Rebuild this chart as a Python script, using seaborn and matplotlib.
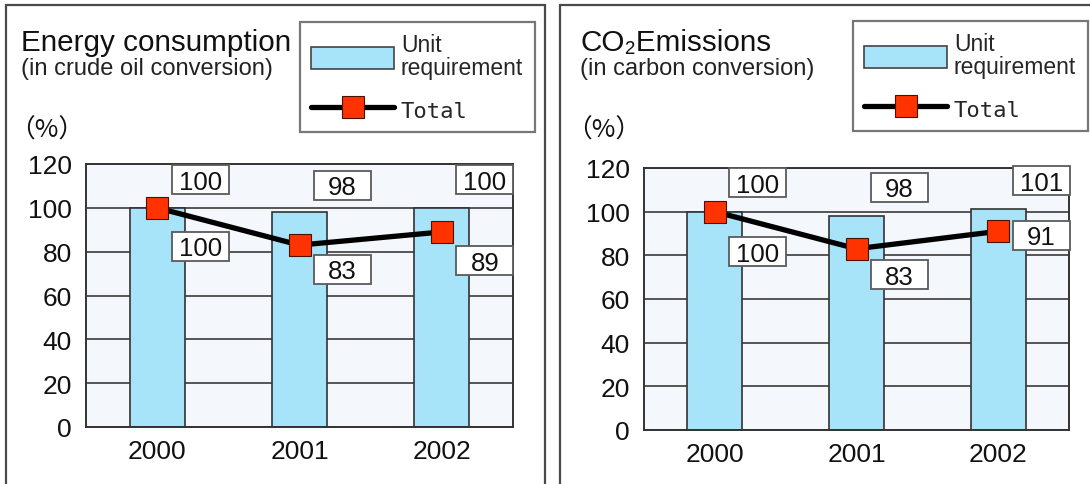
import numpy as np
import pandas as pd
import matplotlib
matplotlib.use("Agg")
import matplotlib.pyplot as plt
import seaborn as sns
from matplotlib.patches import Rectangle, Patch
from matplotlib.lines import Line2D
from matplotlib.text import Text
from matplotlib.offsetbox import AnnotationBbox, DrawingArea

# ---- data ----
years = ["2000", "2001", "2002"]
energy_unit = [100, 98, 100]
energy_total = [100, 83, 89]
co2_unit = [100, 98, 101]
co2_total = [100, 83, 91]
y_ticks = [0, 20, 40, 60, 80, 100, 120]

# ---- styling ----
W, H, DPI = 1090, 485, 100
BAR = "#a8e4f9"
BG = "#f4f8fd"
RED = "#ff3300"
DARK = "#333333"
SANS = ["Liberation Sans", "DejaVu Sans"]
NARROW = ["Liberation Sans Narrow", "Liberation Sans", "DejaVu Sans"]
MONO = ["DejaVu Sans Mono", "Liberation Mono"]
CJK = ["Noto Sans CJK JP", "DejaVu Sans"]

sns.set_style("white")
plt.rcParams["font.family"] = SANS


def px(v):
    """pixels -> points"""
    return v * 72.0 / DPI


def fig_rect(x0, y0, x1, y1):
    return [x0 / W, 1 - y1 / H, (x1 - x0) / W, (y1 - y0) / H]


fig = plt.figure(figsize=(W / DPI, H / DPI), dpi=DPI)
fig.patch.set_facecolor("white")

panels = [
    dict(title="Energy consumption", sub="(in crude oil conversion)",
         unit=energy_unit, total=energy_total,
         frame=(6, 6, 545), text_x=21, pct_x=9,
         axes=(86, 165, 513, 428), legend=(300, 23),
         up=[28, 27, 28], down=[38.5, 24, 28.5]),
    dict(title="CO\u2082Emissions", sub="(in carbon conversion)",
         unit=co2_unit, total=co2_total,
         frame=(560, 6, 1200), text_x=580, pct_x=566,
         axes=(644, 169, 1069, 431), legend=(853, 22),
         up=[29, 29, 29], down=[40, 26, 4]),
]


def boxed_label(ax, x, y, text, dx, dy):
    bw, bh = px(57), px(29)
    da = DrawingArea(bw, bh, 0, 0, clip=False)
    da.add_artist(Rectangle((0, 0), bw, bh, facecolor="white",
                            edgecolor="#5a5a5a", linewidth=1.3))
    fs = 18.5
    da.add_artist(Text(bw / 2, (bh - 0.71 * fs) / 2, text, ha="center",
                       va="baseline", fontsize=fs, family=NARROW,
                       color="#111111"))
    ab = AnnotationBbox(da, (x, y), xybox=(px(dx), px(dy)),
                        xycoords="data", boxcoords="offset points",
                        frameon=False, box_alignment=(0.5, 0.5), pad=0,
                        annotation_clip=False)
    ab.set_zorder(6)
    ax.add_artist(ab)


for p in panels:
    # outer panel frame
    fx0, fy0, fx1 = p["frame"]
    fig.add_artist(Rectangle((fx0 / W, -0.1), (fx1 - fx0) / W,
                             1.1 - fy0 / H, transform=fig.transFigure,
                             fill=False, edgecolor="#4a4a4a", linewidth=1.6))

    # titles
    tx = p["text_x"]
    fig.text(tx / W, 1 - 51 / H, p["title"], fontsize=21.3, family=SANS,
             va="baseline", color="#111111")
    fig.text(tx / W, 1 - 75 / H, p["sub"], fontsize=17, family=SANS,
             va="baseline", color="#222222")
    fig.text(p["pct_x"] / W, 1 - 131 / H, "\uff08%\uff09", fontsize=18.5,
             family=CJK, va="center", ha="left", color="#111111")

    ax = fig.add_axes(fig_rect(*p["axes"]))
    ax.set_facecolor(BG)
    df = pd.DataFrame({"year": years, "unit": p["unit"], "total": p["total"]})

    sns.barplot(data=df, x="year", y="unit", color=BAR, saturation=1,
                width=0.387, edgecolor=DARK, linewidth=1.2, ax=ax, zorder=2)
    sns.lineplot(x=np.arange(len(years)), y=df["total"].to_numpy(), ax=ax,
                 color="black", linewidth=3.8, marker="s", markersize=16,
                 markerfacecolor=RED, markeredgecolor="#4a1000",
                 markeredgewidth=0.8, zorder=4)

    ax.set_xlim(-0.5, len(years) - 0.5)
    ax.set_ylim(0, 120)
    ax.set_yticks(y_ticks)
    ax.set_xlabel("")
    ax.set_ylabel("")
    ax.set_axisbelow(True)
    ax.yaxis.grid(True, color="#3a3a3a", linewidth=1.2)
    ax.xaxis.grid(False)
    for s in ax.spines.values():
        s.set_visible(True)
        s.set_color(DARK)
        s.set_linewidth(1.4)
    ax.tick_params(axis="both", length=0, labelsize=19, colors="#111111")
    ax.tick_params(axis="y", pad=10)
    ax.tick_params(axis="x", pad=9)
    for lab in ax.get_xticklabels() + ax.get_yticklabels():
        lab.set_family(NARROW)

    # value boxes
    for i in range(len(years)):
        boxed_label(ax, i, p["unit"][i], str(p["unit"][i]), 43, p["up"][i])
        boxed_label(ax, i, p["total"][i], str(p["total"][i]), 43,
                    -p["down"][i])

    # legend
    lx, ly = p["legend"]
    handles = [
        Patch(facecolor=BAR, edgecolor="#444444", linewidth=1.2),
        Line2D([], [], color="black", linewidth=3.8, marker="s",
               markersize=16, markerfacecolor=RED, markeredgecolor="#4a1000",
               markeredgewidth=0.8, solid_capstyle="round"),
    ]
    leg = ax.legend(handles, ["Unit\nrequirement", "Total"], loc="upper left",
                    bbox_to_anchor=(lx / W, 1 - ly / H),
                    bbox_transform=fig.transFigure, borderaxespad=0,
                    frameon=True, fancybox=False, edgecolor="#777777",
                    framealpha=1, fontsize=16.5, handlelength=3.6,
                    handleheight=1.1, handletextpad=0.3, labelspacing=0.8,
                    borderpad=0.5)
    leg.get_frame().set_linewidth(1.6)
    t1, t2 = leg.get_texts()
    t1.set_linespacing(1.0)
    t2.set_family(MONO)
    t2.set_fontsize(16)

fig.savefig("out.png", dpi=DPI)
